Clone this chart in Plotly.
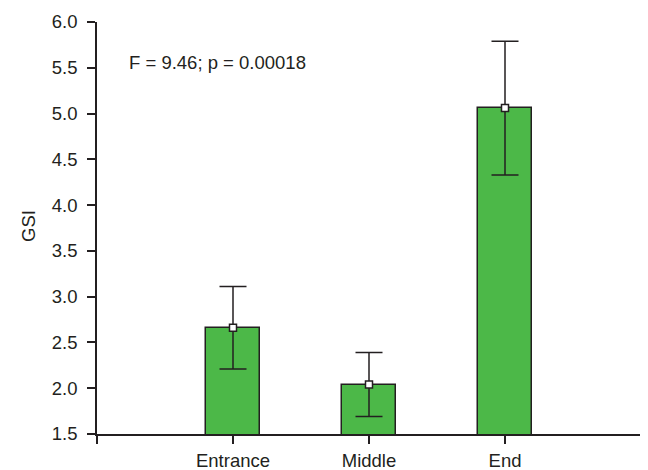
import plotly.graph_objects as go

categories = ["Entrance", "Middle", "End"]
means = [2.66, 2.04, 5.06]
upper = [3.11, 2.39, 5.79]
lower = [2.21, 1.69, 4.33]
stat_text = "F = 9.46; p = 0.00018"
y_title = "GSI"

x_pos = list(range(len(categories)))
err_plus = [u - m for u, m in zip(upper, means)]
err_minus = [m - l for m, l in zip(means, lower)]

dark = "#231f20"
green = "#4cb848"

fig = go.Figure()
fig.add_trace(go.Bar(
    x=x_pos, y=means, width=0.4,
    marker=dict(color=green, line=dict(color=dark, width=1.5)),
    error_y=dict(type="data", symmetric=False, array=err_plus, arrayminus=err_minus,
                 color=dark, thickness=1.5, width=13.5),
    showlegend=False,
))
fig.add_trace(go.Scatter(
    x=x_pos, y=means, mode="markers",
    marker=dict(symbol="square", size=7, color="white", line=dict(color=dark, width=1.5)),
    showlegend=False,
))

fig.add_annotation(x=-0.78, y=5.56, xref="x", yref="y", text=stat_text, showarrow=False,
                   xanchor="left", yanchor="middle", font=dict(size=18.5, color=dark))
fig.add_annotation(x=-0.125, y=0.505, xref="paper", yref="paper", text=y_title, showarrow=False,
                   textangle=-90, xanchor="center", yanchor="middle",
                   font=dict(size=18.5, color=dark))

fig.update_layout(
    width=640, height=462,
    margin=dict(l=89, r=7, t=14, b=36, autoexpand=False),
    paper_bgcolor="white", plot_bgcolor="white",
    font=dict(family="Liberation Sans, Arial, sans-serif", size=18.5, color=dark),
    bargap=0,
)
fig.update_xaxes(
    range=[-1, 3], tickvals=[-1, 0, 1, 2, 3], ticktext=["", "Entrance", "Middle", "End", ""],
    showline=True, linecolor=dark, linewidth=1.5, ticks="outside", ticklen=8,
    tickcolor=dark, tickwidth=1.5, showgrid=False, zeroline=False, automargin=False,
    ticklabelstandoff=1,
)
fig.update_yaxes(
    range=[1.5, 6.0], tickvals=[1.5, 2.0, 2.5, 3.0, 3.5, 4.0, 4.5, 5.0, 5.5, 6.0],
    tickformat=".1f",
    showline=True, linecolor=dark, linewidth=1.5, ticks="outside", ticklen=8,
    tickcolor=dark, tickwidth=1.5, showgrid=False, zeroline=False, automargin=False,
    ticklabelstandoff=6,
)

fig.write_html("out.html")
